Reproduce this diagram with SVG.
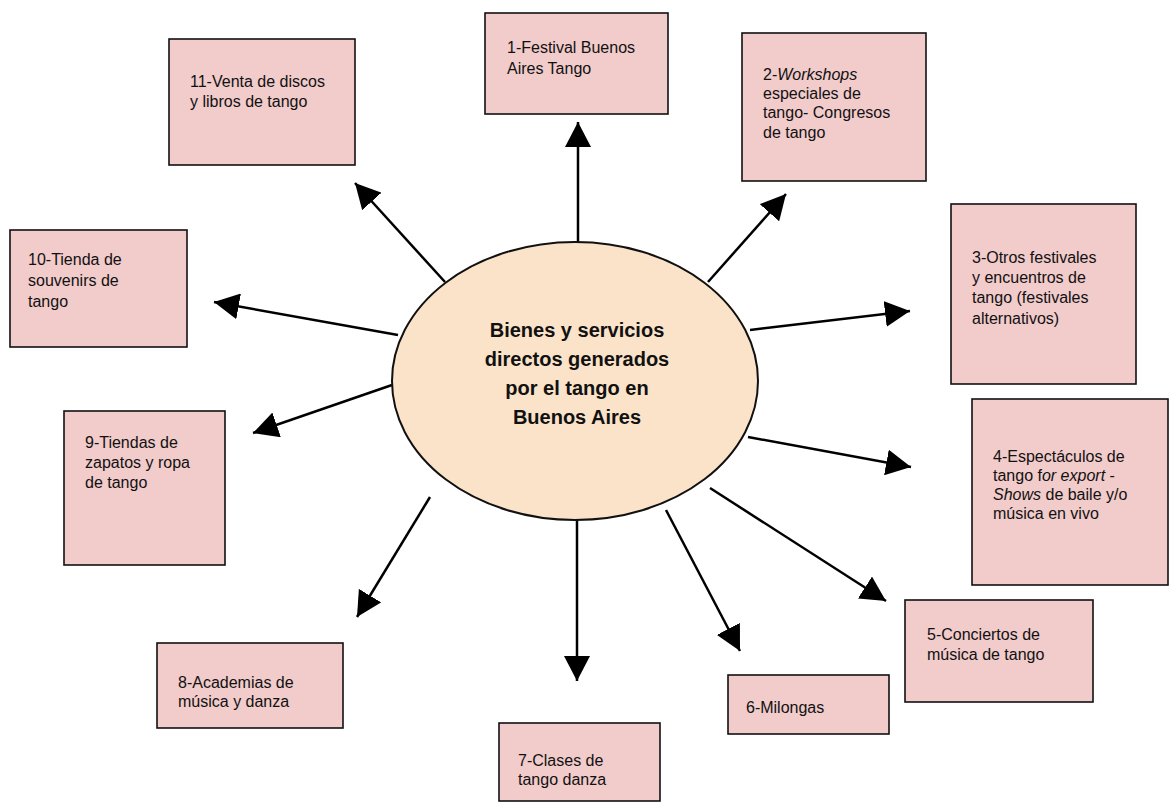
<svg xmlns="http://www.w3.org/2000/svg" width="1170" height="805" viewBox="0 0 1170 805">
<style>
.box{fill:#F2CBCB;stroke:#111;stroke-width:1.6}
.t{font-family:"Liberation Sans",Arial,sans-serif;font-size:16px;fill:#111}
.c{font-family:"Liberation Sans",Arial,sans-serif;font-size:20px;font-weight:bold;fill:#111;text-anchor:middle}
.a{stroke:#000;stroke-width:2.5;fill:none;marker-end:url(#ah)}
</style>
<defs>
<marker id="ah" markerUnits="userSpaceOnUse" markerWidth="26" markerHeight="26" refX="25" refY="13" orient="auto" viewBox="0 0 26 26">
<path d="M0,0 L25,13 L0,26 Z" fill="#000"/>
</marker>
</defs>
<rect width="1170" height="805" fill="#fff"/>
<g id="connectors">
<line class="a" x1="578" y1="242" x2="578" y2="122"/>
<line class="a" x1="708" y1="282" x2="786" y2="194"/>
<line class="a" x1="750" y1="330" x2="910" y2="311"/>
<line class="a" x1="748" y1="437" x2="911" y2="467"/>
<line class="a" x1="710" y1="488" x2="886" y2="601"/>
<line class="a" x1="666" y1="510" x2="740" y2="651"/>
<line class="a" x1="577" y1="520" x2="577" y2="681"/>
<line class="a" x1="430" y1="497" x2="357" y2="617"/>
<line class="a" x1="392" y1="385" x2="253" y2="433"/>
<line class="a" x1="398" y1="335" x2="214" y2="302"/>
<line class="a" x1="445" y1="282" x2="355" y2="183"/>
</g>
<g id="center">
<ellipse cx="575" cy="381" rx="183" ry="139" fill="#FBE3CA" stroke="#111" stroke-width="2"/>
<text class="c" x="577" y="337">Bienes y servicios</text>
<text class="c" x="577" y="366">directos generados</text>
<text class="c" x="577" y="395">por el tango en</text>
<text class="c" x="577" y="424">Buenos Aires</text>
</g>
<g id="n1">
<rect class="box" x="485" y="13" width="183" height="101"/>
<text class="t" x="507" y="53">1-Festival Buenos</text>
<text class="t" x="507" y="74">Aires Tango</text>
</g>
<g id="n2">
<rect class="box" x="742" y="33" width="184" height="148"/>
<text class="t" x="763" y="80">2-<tspan font-style="italic">Workshops</tspan></text>
<text class="t" x="763" y="99">especiales de</text>
<text class="t" x="763" y="118">tango- Congresos</text>
<text class="t" x="763" y="138">de tango</text>
</g>
<g id="n3">
<rect class="box" x="951" y="204" width="185" height="180"/>
<text class="t" x="972" y="263">3-Otros festivales</text>
<text class="t" x="972" y="283">y encuentros de</text>
<text class="t" x="972" y="303">tango (festivales</text>
<text class="t" x="972" y="324">alternativos)</text>
</g>
<g id="n4">
<rect class="box" x="972" y="399" width="196" height="186"/>
<text class="t" x="993" y="462">4-Espectáculos de</text>
<text class="t" x="993" y="481">tango f<tspan font-style="italic">or export</tspan> -</text>
<text class="t" x="993" y="500"><tspan font-style="italic">Shows</tspan> de baile y/o</text>
<text class="t" x="993" y="519">música en vivo</text>
</g>
<g id="n5">
<rect class="box" x="905" y="600" width="188" height="102"/>
<text class="t" x="927" y="640">5-Conciertos de</text>
<text class="t" x="927" y="660">música de tango</text>
</g>
<g id="n6">
<rect class="box" x="728" y="675" width="161" height="59"/>
<text class="t" x="746" y="713">6-Milongas</text>
</g>
<g id="n7">
<rect class="box" x="499" y="723" width="161" height="78"/>
<text class="t" x="518" y="766">7-Clases de</text>
<text class="t" x="518" y="785">tango danza</text>
</g>
<g id="n8">
<rect class="box" x="157" y="643" width="186" height="85"/>
<text class="t" x="178" y="688">8-Academias de</text>
<text class="t" x="178" y="707">música y danza</text>
</g>
<g id="n9">
<rect class="box" x="64" y="411" width="161" height="154"/>
<text class="t" x="85" y="448">9-Tiendas de</text>
<text class="t" x="85" y="468">zapatos y ropa</text>
<text class="t" x="85" y="488">de tango</text>
</g>
<g id="n10">
<rect class="box" x="10" y="230" width="177" height="117"/>
<text class="t" x="28" y="265">10-Tienda de</text>
<text class="t" x="28" y="286">souvenirs de</text>
<text class="t" x="28" y="307">tango</text>
</g>
<g id="n11">
<rect class="box" x="169" y="39" width="186" height="126"/>
<text class="t" x="190" y="87">11-Venta de discos</text>
<text class="t" x="190" y="107">y libros de tango</text>
</g>
</svg>
